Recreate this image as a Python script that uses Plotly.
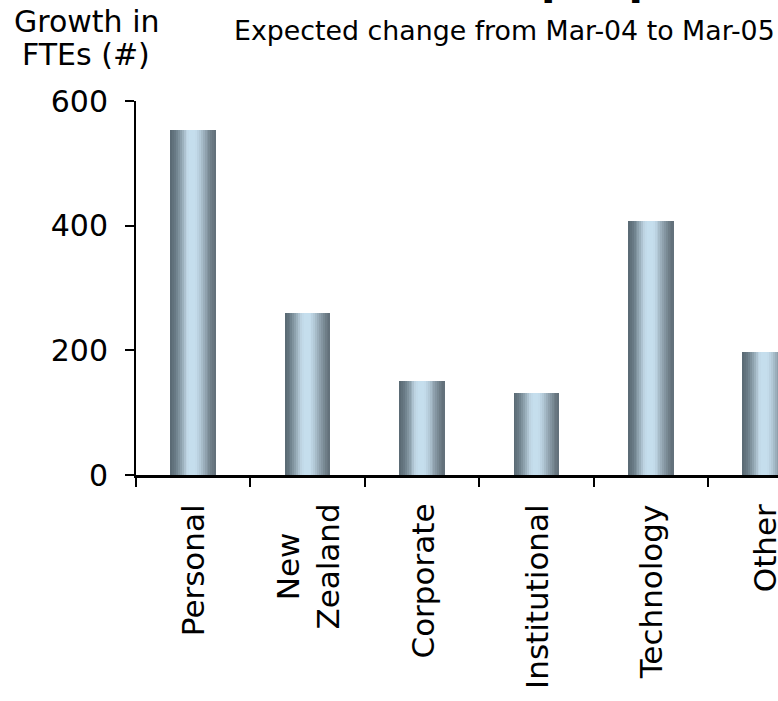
import plotly.graph_objects as go

# ---- data ----
categories = ["Personal", "New Zealand", "Corporate", "Institutional", "Technology", "Other"]
category_labels = ["Personal", "New<br>Zealand", "Corporate", "Institutional", "Technology", "Other"]
fte_growth = [554, 260, 151, 131, 408, 197]
y_ticks = [0, 200, 400, 600]

# ---- layout constants (pixels) ----
W, H = 778, 701
ML, MR, MT, MB = 136, 0, 101, 226
PH = H - MT - MB
PW = W - ML - MR

def py(pix):  # pixel y -> paper y
    return 1 - (pix - MT) / PH

def px(pix):  # pixel x -> paper x
    return (pix - ML) / PW

FONT = "DejaVu Sans, Verdana, sans-serif"

# metallic gradient stops (position across bar, rgb)
stops = [
    (0.00, (88, 103, 113)),
    (0.12, (106, 124, 135)),
    (0.25, (148, 168, 180)),
    (0.35, (188, 210, 224)),
    (0.42, (197, 222, 237)),
    (0.55, (197, 222, 237)),
    (0.65, (178, 200, 214)),
    (0.78, (140, 158, 170)),
    (0.90, (110, 125, 135)),
    (1.00, (96, 110, 120)),
]

def color_at(t):
    for (t0, c0), (t1, c1) in zip(stops[:-1], stops[1:]):
        if t0 <= t <= t1:
            f = (t - t0) / (t1 - t0) if t1 > t0 else 0
            c = [round(a + (b - a) * f) for a, b in zip(c0, c1)]
            return "rgb(%d,%d,%d)" % tuple(c)
    return "rgb(%d,%d,%d)" % stops[-1][1]

BAR_W = 0.40
N = 24
step = BAR_W / N

fig = go.Figure()
for i in range(N):
    off = -BAR_W / 2 + i * step
    w = min(step * 1.7, BAR_W / 2 - off)
    fig.add_trace(go.Bar(
        x=categories, y=fte_growth,
        width=w, offset=off,
        marker=dict(color=color_at((i + 0.5) / N), line=dict(width=0)),
        showlegend=False, hoverinfo="skip",
    ))

annotations = []
for cat, lab in zip(categories, category_labels):
    annotations.append(dict(
        x=cat, xref="x", y=py(502), yref="paper",
        text=lab, textangle=-90, showarrow=False,
        xanchor="center", yanchor="top", align="center",
        font=dict(family=FONT, size=31, color="black"),
    ))

annotations += [
    dict(x=px(86), xref="paper", y=py(41), yref="paper", text="Growth in",
         showarrow=False, xanchor="center", yanchor="bottom",
         font=dict(family=FONT, size=30, color="black")),
    dict(x=px(86), xref="paper", y=py(74), yref="paper", text="FTEs (#)",
         showarrow=False, xanchor="center", yanchor="bottom",
         font=dict(family=FONT, size=30, color="black")),
    dict(x=px(777), xref="paper", y=py(48), yref="paper",
         text="Expected change from Mar-04 to Mar-05",
         showarrow=False, xanchor="right", yanchor="bottom",
         font=dict(family=FONT, size=26.8, color="black")),
    dict(x=px(539), xref="paper", y=py(6), yref="paper",
         text="<b>people</b>",
         showarrow=False, xanchor="left", yanchor="bottom",
         font=dict(family=FONT, size=42, color="black")),
]

fig.update_layout(
    width=W, height=H,
    margin=dict(l=ML, r=MR, t=MT, b=MB, pad=0),
    paper_bgcolor="white", plot_bgcolor="white",
    barmode="overlay", bargap=0,
    font=dict(family=FONT, color="black"),
    annotations=annotations,
    xaxis=dict(
        type="category", range=[-0.5, -0.5 + PW / 114.4],
        tickson="boundaries", ticks="outside", ticklen=9, tickwidth=2, tickcolor="black",
        showticklabels=False, showline=True, linecolor="black", linewidth=2.5,
        showgrid=False, zeroline=False, fixedrange=True,
    ),
    yaxis=dict(
        range=[0, 600], tickvals=y_ticks, ticktext=[str(v) for v in y_ticks],
        ticks="outside", ticklen=9, tickwidth=2, tickcolor="black",
        showline=True, linecolor="black", linewidth=2,
        showgrid=False, zeroline=False,
        tickfont=dict(family=FONT, size=30, color="black"),
        ticklabelstandoff=11,
    ),
)

fig.write_html("out.html")
